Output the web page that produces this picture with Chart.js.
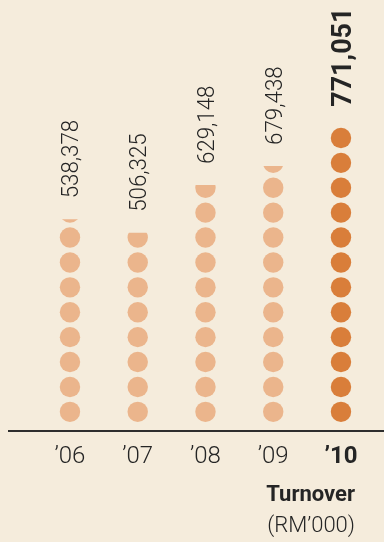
<!DOCTYPE html>
<html>
<head>
<meta charset="utf-8">
<script src="https://cdn.jsdelivr.net/npm/chart.js@4/dist/chart.umd.min.js"></script>
<style>
  html, body { margin: 0; padding: 0; background: #f5ecdc; }
  canvas { display: block; }
</style>
</head>
<body>
<canvas id="turnover-chart" width="384" height="542"></canvas>
<script>
// values
const years = ['\u201906', '\u201907', '\u201908', '\u201909', '\u201910'];
const turnover = [538378, 506325, 629148, 679438, 771051];
// dots drawn per year (fraction = partly filled top dot)
const dots = [8.17, 7.73, 9.63, 10.35, 12];
const highlight = 4;

const LIGHT = '#ebb58c';
const DARK = '#d97e3a';
const INK = '#252525';
const FONT = 'Roboto, "Liberation Sans", sans-serif';
const DOT_R = 10.2;

// one point per whole dot
const points = [];
years.forEach(function(y, i) {
    for (let k = 0; k < Math.floor(dots[i]); k++) {
        points.push({ x: i, y: k + 0.5 });
    }
});

// partial dots, value labels and the caption
const extras = {
    id: 'extras',
    afterDatasetsDraw(chart) {
        const ctx = chart.ctx;
        const xs = chart.scales.x;
        const ys = chart.scales.y;
        years.forEach(function(y, i) {
            const cx = xs.getPixelForValue(i);
            const full = Math.floor(dots[i]);
            const frac = dots[i] - full;
            const color = i === highlight ? DARK : LIGHT;
            let top;
            if (frac > 0) {
                const cy = ys.getPixelForValue(full + 0.5);
                top = cy + DOT_R - frac * 2 * DOT_R;
                ctx.save();
                ctx.beginPath();
                ctx.rect(cx - DOT_R - 1, top, DOT_R * 2 + 2, frac * 2 * DOT_R + 1);
                ctx.clip();
                ctx.beginPath();
                ctx.arc(cx, cy, DOT_R, 0, Math.PI * 2);
                ctx.fillStyle = color;
                ctx.fill();
                ctx.restore();
            } else {
                top = ys.getPixelForValue(full - 0.5) - DOT_R;
            }

            // rotated value label
            const bold = i === highlight;
            const size = bold ? 28 : 24;
            ctx.save();
            ctx.translate(cx, top - 21);
            ctx.rotate(-Math.PI / 2);
            ctx.scale(bold ? 0.96 : 0.93, 1);
            ctx.font = (bold ? 'bold ' : '300 ') + size + 'px ' + FONT;
            ctx.fillStyle = INK;
            ctx.textAlign = 'left';
            ctx.textBaseline = 'alphabetic';
            ctx.fillText(turnover[i].toLocaleString('en-US'), 0, size * 0.355);
            ctx.restore();
        });

        ctx.save();
        ctx.fillStyle = INK;
        ctx.textAlign = 'right';
        ctx.textBaseline = 'middle';
        ctx.font = 'bold 22px ' + FONT;
        ctx.fillText('Turnover', 355, 495);
        ctx.font = '300 22px ' + FONT;
        ctx.fillText('(RM\u2019000)', 355, 526);
        ctx.restore();
    }
};

document.addEventListener('DOMContentLoaded', function() {
    const canvas = document.getElementById('turnover-chart');

    new Chart(canvas, {
        type: 'scatter',
        data: {
            datasets: [{
                data: points,
                pointRadius: DOT_R,
                pointHoverRadius: DOT_R,
                pointBorderWidth: 0,
                backgroundColor: function(c) {
                    return c.raw && c.raw.x === highlight ? DARK : LIGHT;
                }
            }]
        },
        options: {
            responsive: false,
            animation: false,
            events: [],
            layout: {
                autoPadding: false,
                padding: { left: 9, right: 0, top: 0, bottom: 0 }
            },
            plugins: {
                legend: { display: false },
                tooltip: { enabled: false }
            },
            scales: {
                x: {
                    type: 'linear',
                    min: -0.9,
                    max: 4.635,
                    grid: { display: false, drawTicks: false },
                    border: { display: true, color: '#2e2e2e', width: 2 },
                    afterBuildTicks: function(scale) {
                        scale.ticks = years.map(function(y, i) { return { value: i }; });
                    },
                    afterFit: function(scale) {
                        scale.height = 111;
                    },
                    ticks: {
                        padding: 12,
                        color: INK,
                        callback: function(v) { return years[v]; },
                        font: function(c) {
                            return {
                                family: FONT,
                                size: 24,
                                weight: c.index === highlight ? 'bold' : '300'
                            };
                        }
                    }
                },
                y: {
                    display: false,
                    min: -0.27,
                    max: 17.04
                }
            }
        },
        plugins: [extras]
    });
});
</script>
</body>
</html>
